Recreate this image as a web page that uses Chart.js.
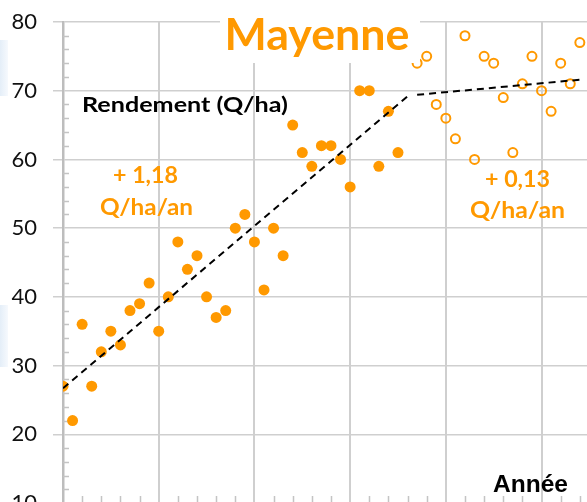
<!DOCTYPE html>
<html lang="fr">
<head>
<meta charset="utf-8">
<title>Mayenne - rendement</title>
<script src="https://cdn.jsdelivr.net/npm/chart.js@4.4.1/dist/chart.umd.min.js"></script>
<style>
    html, body { margin: 0; padding: 0; background: #fff; overflow: hidden; }
    #wrap { position: relative; width: 587px; height: 502px; overflow: hidden; }
    #rendement { position: absolute; left: 0; top: 0; }
    .bleu { position: absolute; left: 0; width: 8px; background: linear-gradient(to right, #e4eef8, #f6f9fd); }
</style>
</head>
<body>
<div id="wrap">
    <div class="bleu" style="top:40px;height:56px"></div>
    <div class="bleu" style="top:305px;height:62px"></div>
    <canvas id="rendement" width="600" height="520"></canvas>
</div>
<script>
// --- Données (Q/ha) ---
const anneesAvant = [1960, 1961, 1962, 1963, 1964, 1965, 1966, 1967, 1968, 1969,
                     1970, 1971, 1972, 1973, 1974, 1975, 1976, 1977, 1978, 1979,
                     1980, 1981, 1982, 1983, 1984, 1985, 1986, 1987, 1988, 1989,
                     1990, 1991, 1992, 1993, 1994, 1995];
const rendementAvant = [27, 22, 36, 27, 32, 35, 33, 38, 39, 42,
                        35, 40, 48, 44, 46, 40, 37, 38, 50, 52,
                        48, 41, 50, 46, 65, 61, 59, 62, 62, 60,
                        56, 70, 70, 59, 67, 61];

const anneesApres = [1997, 1998, 1999, 2000, 2001, 2002, 2003, 2004, 2005,
                     2006, 2007, 2008, 2009, 2010, 2011, 2012, 2013, 2014];
const rendementApres = [74, 75, 68, 66, 63, 78, 60, 75, 74,
                        69, 61, 71, 75, 70, 67, 74, 71, 77];

// tendances : +1,18 Q/ha/an puis +0,13 Q/ha/an
const tendance1Annees = [1960, 1996];
const tendance1Valeurs = [26.7, 69.2];
const tendance2Annees = [1997, 2014];
const tendance2Valeurs = [69.4, 71.6];

const yTicks = [10, 20, 30, 40, 50, 60, 70, 80];

const ORANGE = '#ff9900';
const GRIS = '#cfcfcf';
const POLICE = 'Lato, "Open Sans", sans-serif';

const toPoints = (xs, ys) => xs.map((x, i) => ({ x: x, y: ys[i] }));

// petites graduations (tous les 2 ans / 2 Q) dessinées à l'intérieur des axes
const graduations = {
    id: 'graduations',
    beforeDatasetsDraw(chart) {
        const { ctx, chartArea, scales } = chart;
        ctx.save();
        ctx.strokeStyle = '#c4c4c4';
        ctx.lineWidth = 1.5;
        ctx.beginPath();
        for (let v = yTicks[0]; v <= yTicks[yTicks.length - 1]; v += 2) {
            if (v % 10 === 0) continue;
            const py = Math.round(scales.y.getPixelForValue(v)) + 0.5;
            ctx.moveTo(chartArea.left, py);
            ctx.lineTo(chartArea.left + 6, py);
        }
        for (let a = 1962; a <= 2014; a += 2) {
            if (a % 10 === 0) continue;
            const px = Math.round(scales.x.getPixelForValue(a)) + 0.5;
            ctx.moveTo(px, chartArea.bottom);
            ctx.lineTo(px, chartArea.bottom - 7);
        }
        ctx.stroke();
        ctx.restore();
    }
};

// texte centré sur cx, étiré pour occuper la largeur voulue
function texte(ctx, txt, cx, y, largeur) {
    const w = ctx.measureText(txt).width;
    ctx.save();
    ctx.translate(cx, y);
    ctx.scale(largeur / w, 1);
    ctx.fillText(txt, 0, 0);
    ctx.restore();
}

// titre et annotations
const textes = {
    id: 'textes',
    afterDatasetsDraw(chart) {
        const ctx = chart.ctx;
        ctx.save();
        // cadre blanc du titre (cache le haut de la grille)
        ctx.fillStyle = '#fff';
        ctx.fillRect(220, 0, 200, 63);

        ctx.textAlign = 'center';
        ctx.textBaseline = 'alphabetic';
        ctx.fillStyle = ORANGE;
        ctx.font = 'bold 43px ' + POLICE;
        texte(ctx, 'Mayenne', 317, 50, 185);

        ctx.font = 'bold 22px ' + POLICE;
        texte(ctx, '+ 1,18', 145.5, 183, 65);
        texte(ctx, 'Q/ha/an', 146.5, 215, 93);
        texte(ctx, '+ 0,13', 517.5, 187, 65);
        texte(ctx, 'Q/ha/an', 517.5, 218, 95);

        ctx.fillStyle = '#000';
        ctx.font = 'bold 20px ' + POLICE;
        texte(ctx, 'Rendement (Q/ha)', 185, 112, 206);

        ctx.font = 'bold 24px "Liberation Sans", Arial, sans-serif';
        texte(ctx, 'Année', 530.5, 492, 75);
        ctx.restore();
    }
};

const ctx_rendement = document.getElementById('rendement');
new Chart(ctx_rendement, {
    type: 'scatter',
    data: {
        datasets: [{
            type: 'line',
            data: toPoints(tendance1Annees, tendance1Valeurs),
            borderColor: '#000',
            borderWidth: 2,
            borderDash: [7, 5],
            pointRadius: 0,
            fill: false
        }, {
            type: 'line',
            data: toPoints(tendance2Annees, tendance2Valeurs),
            borderColor: '#000',
            borderWidth: 2,
            borderDash: [7, 5],
            pointRadius: 0,
            fill: false
        }, {
            label: '1960-1995',
            data: toPoints(anneesAvant, rendementAvant),
            backgroundColor: ORANGE,
            borderWidth: 0,
            pointRadius: 5.5
        }, {
            label: '1997-2014',
            data: toPoints(anneesApres, rendementApres),
            backgroundColor: 'rgba(0,0,0,0)',
            borderColor: ORANGE,
            borderWidth: 2,
            pointRadius: 4.5
        }]
    },
    options: {
        responsive: false,
        animation: false,
        layout: { padding: { top: 22, right: 10.6, bottom: 17, left: 0 } },
        plugins: { legend: { display: false }, tooltip: { enabled: false }, title: { display: false } },
        scales: {
            x: {
                type: 'linear',
                min: 1960,
                max: 2015,
                afterFit: (s) => { s.height = 0; },
                ticks: { stepSize: 10, display: false, includeBounds: false },
                grid: { color: GRIS, lineWidth: 2, drawTicks: false },
                border: { display: false }
            },
            y: {
                min: 10,
                max: 80,
                afterFit: (s) => { s.width = 63; s.paddingTop = 0; s.paddingBottom = 0; },
                afterBuildTicks: (s) => { s.ticks = yTicks.map(v => ({ value: v })); },
                ticks: {
                    color: '#111',
                    padding: 16,
                    font: { family: POLICE, size: 22 }
                },
                grid: { color: GRIS, lineWidth: 1.5, tickLength: 10 },
                border: { color: '#bdbdbd', width: 2.5 }
            }
        }
    },
    plugins: [graduations, textes]
});
</script>
</body>
</html>
